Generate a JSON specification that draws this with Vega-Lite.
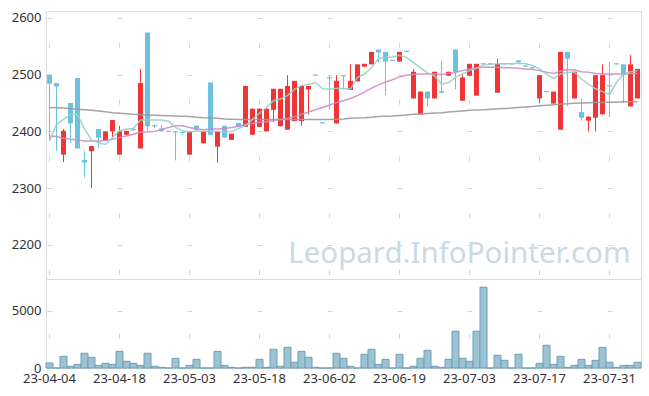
{
  "$schema": "https://vega.github.io/schema/vega-lite/v6.json",
  "padding": {"left": 5, "top": 10, "right": 9, "bottom": 5},
  "background": "white",
  "config": {
    "view": {"stroke": "#dddddd"},
    "font": "Noto Sans",
    "axis": {"labelFont": "Noto Sans", "labelFontSize": 13, "labelColor": "#333333", "title": null, "domain": false, "ticks": false, "tickSize": 0, "gridColor": "#d6d6d6", "gridWidth": 1}
  },
  "data": {"values": [
    {"d":"23-04-04","o":2500,"h":2500,"l":2383,"c":2484,"v":440,"m5":2383,"m20":2392,"m60":2442},
    {"d":"23-04-05","o":2485,"h":2485,"l":2365,"c":2479,"v":0,"m5":2412,"m20":2391,"m60":2441.5},
    {"d":"23-04-06","o":2359,"h":2404,"l":2346,"c":2401,"v":1020,"m5":2421,"m20":2388,"m60":2441},
    {"d":"23-04-07","o":2450,"h":2450,"l":2380,"c":2414,"v":150,"m5":2430,"m20":2386,"m60":2440},
    {"d":"23-04-10","o":2494,"h":2494,"l":2370,"c":2370,"v":320,"m5":2430,"m20":2385,"m60":2439},
    {"d":"23-04-11","o":2350,"h":2366,"l":2319,"c":2345,"v":1290,"m5":2404,"m20":2383,"m60":2438},
    {"d":"23-04-12","o":2365,"h":2374,"l":2300,"c":2374,"v":940,"m5":2385,"m20":2383,"m60":2437},
    {"d":"23-04-13","o":2404,"h":2404,"l":2371,"c":2389,"v":230,"m5":2380,"m20":2383,"m60":2436},
    {"d":"23-04-14","o":2384,"h":2400,"l":2384,"c":2400,"v":410,"m5":2377,"m20":2384,"m60":2434.5},
    {"d":"23-04-17","o":2400,"h":2420,"l":2390,"c":2420,"v":320,"m5":2389,"m20":2386,"m60":2433},
    {"d":"23-04-18","o":2359,"h":2410,"l":2359,"c":2400,"v":1460,"m5":2401,"m20":2389,"m60":2432},
    {"d":"23-04-19","o":2394,"h":2401,"l":2394,"c":2401,"v":590,"m5":2404,"m20":2392,"m60":2431},
    {"d":"23-04-20","o":2404,"h":2405,"l":2402,"c":2402,"v":410,"m5":2405,"m20":2395,"m60":2430},
    {"d":"23-04-21","o":2370,"h":2510,"l":2370,"c":2485,"v":230,"m5":2420,"m20":2399,"m60":2429.5},
    {"d":"23-04-24","o":2574,"h":2574,"l":2401,"c":2409,"v":1290,"m5":2420,"m20":2399,"m60":2429},
    {"d":"23-04-25","o":2411,"h":2412,"l":2405,"c":2409,"v":150,"m5":2420,"m20":2400,"m60":2428.5},
    {"d":"23-04-26","o":2405,"h":2411,"l":2400,"c":2400,"v":60,"m5":2420,"m20":2403,"m60":2428},
    {"d":"23-04-27","o":2401,"h":2401,"l":2399,"c":2399,"v":0,"m5":2418,"m20":2407,"m60":2427.5},
    {"d":"23-04-28","o":2400,"h":2400,"l":2349,"c":2398,"v":850,"m5":2407,"m20":2410,"m60":2427},
    {"d":"23-05-02","o":2399,"h":2400,"l":2394,"c":2397,"v":0,"m5":2401,"m20":2410,"m60":2426.5},
    {"d":"23-05-03","o":2359,"h":2400,"l":2359,"c":2400,"v":230,"m5":2399,"m20":2407,"m60":2426},
    {"d":"23-05-04","o":2410,"h":2410,"l":2402,"c":2402,"v":760,"m5":2400,"m20":2404,"m60":2425},
    {"d":"23-05-08","o":2379,"h":2400,"l":2379,"c":2400,"v":0,"m5":2400,"m20":2403,"m60":2424},
    {"d":"23-05-09","o":2486,"h":2486,"l":2394,"c":2394,"v":0,"m5":2400,"m20":2404,"m60":2423.5},
    {"d":"23-05-10","o":2373,"h":2400,"l":2345,"c":2400,"v":1460,"m5":2400,"m20":2404,"m60":2423},
    {"d":"23-05-11","o":2410,"h":2410,"l":2389,"c":2389,"v":230,"m5":2399,"m20":2405,"m60":2422},
    {"d":"23-05-12","o":2385,"h":2396,"l":2385,"c":2396,"v":60,"m5":2400,"m20":2407,"m60":2421.5},
    {"d":"23-05-15","o":2415,"h":2415,"l":2408,"c":2408,"v":0,"m5":2405,"m20":2409,"m60":2421},
    {"d":"23-05-16","o":2408,"h":2480,"l":2408,"c":2480,"v":60,"m5":2410,"m20":2412,"m60":2421},
    {"d":"23-05-17","o":2394,"h":2440,"l":2394,"c":2440,"v":60,"m5":2421,"m20":2414,"m60":2421},
    {"d":"23-05-18","o":2408,"h":2440,"l":2408,"c":2440,"v":760,"m5":2432,"m20":2416,"m60":2421},
    {"d":"23-05-19","o":2400,"h":2440,"l":2400,"c":2440,"v":60,"m5":2442,"m20":2417,"m60":2421},
    {"d":"23-05-22","o":2438,"h":2475,"l":2416,"c":2475,"v":1640,"m5":2454,"m20":2419,"m60":2421},
    {"d":"23-05-23","o":2409,"h":2475,"l":2409,"c":2475,"v":150,"m5":2457,"m20":2421,"m60":2421},
    {"d":"23-05-24","o":2403,"h":2499,"l":2403,"c":2480,"v":1810,"m5":2463,"m20":2423,"m60":2421},
    {"d":"23-05-25","o":2418,"h":2489,"l":2418,"c":2489,"v":500,"m5":2474,"m20":2426,"m60":2421},
    {"d":"23-05-26","o":2418,"h":2480,"l":2410,"c":2480,"v":1460,"m5":2481,"m20":2430,"m60":2421},
    {"d":"23-05-30","o":2474,"h":2480,"l":2430,"c":2480,"v":940,"m5":2482,"m20":2434,"m60":2421},
    {"d":"23-05-31","o":2500,"h":2500,"l":2498,"c":2498,"v":60,"m5":2486,"m20":2438,"m60":2421},
    {"d":"23-06-01","o":2416,"h":2416,"l":2414,"c":2414,"v":0,"m5":2475,"m20":2442,"m60":2421},
    {"d":"23-06-02","o":2495,"h":2499,"l":2439,"c":2493,"v":0,"m5":2474,"m20":2446,"m60":2421},
    {"d":"23-06-05","o":2414,"h":2499,"l":2414,"c":2489,"v":1290,"m5":2476,"m20":2451,"m60":2421.5},
    {"d":"23-06-07","o":2499,"h":2499,"l":2474,"c":2497,"v":850,"m5":2475,"m20":2454,"m60":2422},
    {"d":"23-06-08","o":2473,"h":2518,"l":2473,"c":2489,"v":150,"m5":2475,"m20":2458,"m60":2423},
    {"d":"23-06-09","o":2488,"h":2518,"l":2488,"c":2518,"v":0,"m5":2495,"m20":2463,"m60":2423.5},
    {"d":"23-06-12","o":2514,"h":2519,"l":2514,"c":2519,"v":1200,"m5":2501,"m20":2469,"m60":2424},
    {"d":"23-06-13","o":2518,"h":2540,"l":2518,"c":2540,"v":1640,"m5":2512,"m20":2476,"m60":2425},
    {"d":"23-06-14","o":2544,"h":2544,"l":2521,"c":2539,"v":320,"m5":2528,"m20":2482,"m60":2426},
    {"d":"23-06-15","o":2540,"h":2540,"l":2464,"c":2523,"v":760,"m5":2530,"m20":2487,"m60":2426.5},
    {"d":"23-06-16","o":2526,"h":2526,"l":2524,"c":2524,"v":0,"m5":2531,"m20":2491,"m60":2427},
    {"d":"23-06-19","o":2523,"h":2540,"l":2523,"c":2540,"v":1200,"m5":2534,"m20":2496,"m60":2428},
    {"d":"23-06-20","o":2542,"h":2542,"l":2540,"c":2540,"v":0,"m5":2530,"m20":2499,"m60":2429},
    {"d":"23-06-21","o":2458,"h":2510,"l":2458,"c":2505,"v":150,"m5":2521,"m20":2500,"m60":2430},
    {"d":"23-06-22","o":2430,"h":2470,"l":2430,"c":2470,"v":850,"m5":2512,"m20":2501,"m60":2430.5},
    {"d":"23-06-23","o":2470,"h":2470,"l":2444,"c":2458,"v":1550,"m5":2503,"m20":2501,"m60":2431.5},
    {"d":"23-06-26","o":2458,"h":2505,"l":2458,"c":2505,"v":150,"m5":2498,"m20":2501,"m60":2432.5},
    {"d":"23-06-27","o":2471,"h":2524,"l":2467,"c":2468,"v":60,"m5":2483,"m20":2500,"m60":2433},
    {"d":"23-06-28","o":2498,"h":2505,"l":2498,"c":2505,"v":760,"m5":2486,"m20":2502,"m60":2434},
    {"d":"23-06-29","o":2544,"h":2544,"l":2474,"c":2504,"v":3220,"m5":2495,"m20":2504,"m60":2435},
    {"d":"23-06-30","o":2454,"h":2499,"l":2454,"c":2495,"v":850,"m5":2501,"m20":2507,"m60":2436},
    {"d":"23-07-03","o":2498,"h":2519,"l":2498,"c":2519,"v":590,"m5":2507,"m20":2510,"m60":2437},
    {"d":"23-07-04","o":2463,"h":2519,"l":2463,"c":2519,"v":3220,"m5":2511,"m20":2512,"m60":2437.5},
    {"d":"23-07-05","o":2520,"h":2520,"l":2518,"c":2518,"v":7080,"m5":2517,"m20":2513,"m60":2438},
    {"d":"23-07-06","o":2520,"h":2520,"l":2518,"c":2518,"v":0,"m5":2518,"m20":2513,"m60":2439},
    {"d":"23-07-07","o":2468,"h":2528,"l":2468,"c":2519,"v":1110,"m5":2519,"m20":2513,"m60":2440},
    {"d":"23-07-10","o":2520,"h":2520,"l":2518,"c":2518,"v":670,"m5":2519,"m20":2512,"m60":2440.5},
    {"d":"23-07-11","o":2520,"h":2520,"l":2518,"c":2518,"v":0,"m5":2519,"m20":2512,"m60":2441},
    {"d":"23-07-12","o":2525,"h":2525,"l":2518,"c":2522,"v":1200,"m5":2520,"m20":2511,"m60":2442},
    {"d":"23-07-13","o":2516,"h":2516,"l":2514,"c":2514,"v":0,"m5":2519,"m20":2510,"m60":2443},
    {"d":"23-07-14","o":2513,"h":2513,"l":2511,"c":2511,"v":0,"m5":2516,"m20":2509,"m60":2444},
    {"d":"23-07-17","o":2458,"h":2499,"l":2450,"c":2499,"v":410,"m5":2510,"m20":2507,"m60":2445},
    {"d":"23-07-18","o":2471,"h":2471,"l":2469,"c":2469,"v":1990,"m5":2501,"m20":2504,"m60":2446},
    {"d":"23-07-19","o":2449,"h":2470,"l":2449,"c":2470,"v":320,"m5":2493,"m20":2502,"m60":2447},
    {"d":"23-07-20","o":2403,"h":2540,"l":2403,"c":2540,"v":1020,"m5":2501,"m20":2506,"m60":2448},
    {"d":"23-07-21","o":2540,"h":2540,"l":2445,"c":2528,"v":60,"m5":2504,"m20":2509,"m60":2448.5},
    {"d":"23-07-24","o":2458,"h":2505,"l":2458,"c":2505,"v":230,"m5":2504,"m20":2508,"m60":2449.5},
    {"d":"23-07-25","o":2434,"h":2458,"l":2419,"c":2424,"v":760,"m5":2492,"m20":2505,"m60":2450},
    {"d":"23-07-26","o":2419,"h":2426,"l":2400,"c":2426,"v":230,"m5":2483,"m20":2504,"m60":2450.5},
    {"d":"23-07-27","o":2424,"h":2499,"l":2400,"c":2499,"v":670,"m5":2475,"m20":2502,"m60":2451},
    {"d":"23-07-28","o":2430,"h":2518,"l":2430,"c":2499,"v":1810,"m5":2470,"m20":2501,"m60":2451},
    {"d":"23-07-31","o":2481,"h":2523,"l":2425,"c":2479,"v":500,"m5":2465,"m20":2501,"m60":2451.5},
    {"d":"23-08-01","o":2520,"h":2520,"l":2518,"c":2518,"v":60,"m5":2486,"m20":2501,"m60":2451.5},
    {"d":"23-08-02","o":2518,"h":2518,"l":2450,"c":2499,"v":230,"m5":2501,"m20":2501,"m60":2452},
    {"d":"23-08-03","o":2444,"h":2534,"l":2444,"c":2518,"v":230,"m5":2505,"m20":2502,"m60":2452},
    {"d":"23-08-04","o":2458,"h":2510,"l":2458,"c":2510,"v":500,"m5":2507,"m20":2502,"m60":2452}
  ]},
  "spacing": 0,
  "bounds": "flush",
  "vconcat": [
    {
      "width": 595,
      "height": 268,
      "encoding": {
        "x": {"field": "d", "type": "ordinal", "sort": null, "scale": {"paddingInner": 0, "paddingOuter": 0},
          "axis": {"orient": "top", "labels": false, "grid": true, "bandPosition": 0.5, "minExtent": 0, "maxExtent": 0,
            "values": ["23-04-04","23-04-18","23-05-03","23-05-18","23-06-02","23-06-19","23-07-03","23-07-17","23-07-31"],
            "gridDash": [5, 51.75], "gridDashOffset": 52.25}}
      },
      "layer": [
        {
          "mark": {"type": "rule", "strokeWidth": 1},
          "encoding": {
            "y": {"field": "l", "type": "quantitative", "scale": {"domain": [2140, 2612], "nice": false, "zero": false},
              "axis": {"values": [2200, 2300, 2400, 2500, 2600], "format": "d", "grid": true, "gridDash": [5, 65], "gridDashOffset": 69, "labelPadding": 5, "minExtent": 40, "maxExtent": 40}},
            "y2": {"field": "h"},
            "color": {"condition": {"test": "datum.c >= datum.o", "value": "#ef3535"}, "value": "#6cc1dc"}
          }
        },
        {
          "mark": {"type": "bar", "width": 5},
          "encoding": {
            "y": {"field": "o", "type": "quantitative"},
            "y2": {"field": "c"},
            "color": {"condition": {"test": "datum.c >= datum.o", "value": "#ef3535"}, "value": "#6cc1dc"}
          }
        },
        {
          "mark": {"type": "line", "color": "#9a9a9a", "strokeWidth": 1.5, "opacity": 0.9},
          "encoding": {"y": {"field": "m60", "type": "quantitative"}}
        },
        {
          "mark": {"type": "line", "color": "#cf8cc9", "strokeWidth": 1.5, "opacity": 0.9},
          "encoding": {"y": {"field": "m20", "type": "quantitative"}}
        },
        {
          "mark": {"type": "line", "color": "#93d1c6", "strokeWidth": 1.5, "opacity": 0.9},
          "encoding": {"y": {"field": "m5", "type": "quantitative"}}
        },
        {
          "data": {"values": [{"t": "Leopard.InfoPointer.com"}]},
          "mark": {"type": "text", "align": "right", "baseline": "alphabetic", "fontSize": 29.5, "font": "Noto Sans", "color": "#c9dae5"},
          "encoding": {
            "x": {"datum": "23-08-03"},
            "y": {"datum": 2168},
            "text": {"field": "t"}
          }
        }
      ]
    },
    {
      "width": 595,
      "height": 89,
      "mark": {"type": "bar", "width": {"band": 1}, "fill": "#9dc3d3", "stroke": "#6b9fb7", "strokeWidth": 1},
      "encoding": {
        "x": {"field": "d", "type": "ordinal", "sort": null, "scale": {"paddingInner": 0, "paddingOuter": 0},
          "axis": {"orient": "bottom", "labelAngle": 0, "labelPadding": 4, "grid": true, "bandPosition": 0.5,
            "values": ["23-04-04","23-04-18","23-05-03","23-05-18","23-06-02","23-06-19","23-07-03","23-07-17","23-07-31"],
            "gridDash": [5, 200], "gridDashOffset": 150.5}},
        "y": {"field": "v", "type": "quantitative", "scale": {"domain": [0, 7800], "nice": false},
          "axis": {"values": [0, 5000], "format": "d", "grid": true, "gridDash": [5, 65], "gridDashOffset": 69, "labelPadding": 5, "minExtent": 40, "maxExtent": 40}}
      }
    }
  ]
}
